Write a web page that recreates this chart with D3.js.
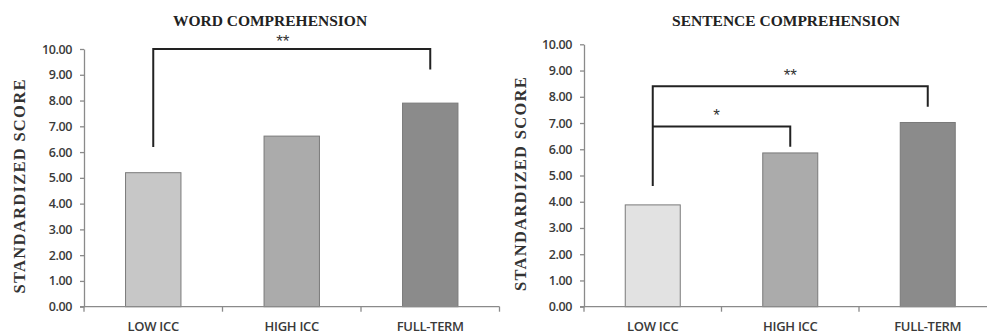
<!DOCTYPE html>
<html>
<head>
<meta charset="utf-8">
<script src="https://cdn.jsdelivr.net/npm/d3@7"></script>
<style>
  body { margin: 0; background: #fff; }
  svg { display: block; }
</style>
</head>
<body>
<div id="main_output"></div>
<script>
// data
var groups = ["LOW ICC", "HIGH ICC", "FULL-TERM"];
var yTicks = [0, 1, 2, 3, 4, 5, 6, 7, 8, 9, 10];
var wordScores = [5.2, 6.62, 7.9];
var sentenceScores = [3.88, 5.86, 7.02];
var wordColors = ["#c7c7c7", "#ababab", "#8b8b8b"];
var sentenceColors = ["#e2e2e2", "#ababab", "#8b8b8b"];
// brackets: from group, to group, level, drop on left side, drop on right side, label
var wordBrackets = [
  {from: 0, to: 2, level: 10, lowA: 6.2, lowB: 9.2, label: "**"}
];
var sentenceBrackets = [
  {from: 0, to: 2, level: 8.4, lowA: 4.6, lowB: 7.62, label: "**"},
  {from: 0, to: 1, level: 6.87, lowA: 6.87, lowB: 6.1, label: "*"}
];

var width = 987, height = 336;

var svg = d3.select("#main_output")
  .append("svg")
  .attr("width", width)
  .attr("height", height);

function drawPanel(opt) {
  var x = d3.scaleBand()
    .domain(groups)
    .range([opt.left, opt.left + 3 * opt.band])
    .paddingInner(0.6)
    .paddingOuter(0.3);

  var y = d3.scaleLinear()
    .domain([0, 10])
    .range([opt.bottom, opt.top]);

  var g = svg.append("g");

  // title
  g.append("text")
    .attr("x", opt.titleX)
    .attr("y", 26)
    .attr("text-anchor", "middle")
    .attr("font-family", "Liberation Serif, Times New Roman, serif")
    .attr("font-weight", "bold")
    .attr("font-size", "15.5px")
    .attr("fill", "#222")
    .text(opt.title);

  // y axis label
  g.append("text")
    .attr("transform", "translate(" + opt.labelX + "," + ((opt.top + opt.bottom) / 2 + 8) + ") rotate(-90)")
    .attr("text-anchor", "middle")
    .attr("dy", "0.35em")
    .attr("font-family", "Liberation Serif, Times New Roman, serif")
    .attr("font-weight", "bold")
    .attr("font-size", "16.5px")
    .attr("letter-spacing", "1.3px")
    .attr("fill", "#333")
    .text("STANDARDIZED SCORE");

  // y axis
  var yAxis = d3.axisLeft(y)
    .tickValues(yTicks)
    .tickFormat(d3.format(".2f"))
    .tickSize(4)
    .tickSizeOuter(0)
    .tickPadding(8);

  var ya = g.append("g")
    .attr("transform", "translate(" + opt.left + ",0)")
    .call(yAxis);
  ya.select(".domain").attr("stroke", "#8a8a8a").attr("stroke-width", 1.3);
  ya.selectAll(".tick line").attr("stroke", "#8a8a8a").attr("stroke-width", 1.3);
  ya.selectAll(".tick text")
    .attr("font-family", "Open Sans, Liberation Sans, sans-serif")
    .attr("font-size", "12.5px")
    .attr("font-weight", "600")
    .attr("letter-spacing", "-0.4px")
    .attr("fill", "#3a3a3a");

  // bars
  g.selectAll(".bar")
    .data(opt.values)
    .enter().append("rect")
    .attr("class", "bar")
    .attr("x", function(d, i) { return x(groups[i]); })
    .attr("width", x.bandwidth())
    .attr("y", function(d) { return y(d); })
    .attr("height", function(d) { return y(0) - y(d); })
    .attr("fill", function(d, i) { return opt.colors[i]; })
    .attr("stroke", "#7a7a7a")
    .attr("stroke-width", 1);

  // x axis
  var xr = [opt.left, opt.left + 3 * opt.band];
  g.append("line")
    .attr("x1", xr[0] - 4).attr("x2", xr[1])
    .attr("y1", y(0)).attr("y2", y(0))
    .attr("stroke", "#8a8a8a").attr("stroke-width", 1.3);

  g.selectAll(".xtick")
    .data(d3.range(4))
    .enter().append("line")
    .attr("class", "xtick")
    .attr("x1", function(d) { return opt.left + d * opt.band; })
    .attr("x2", function(d) { return opt.left + d * opt.band; })
    .attr("y1", y(0))
    .attr("y2", y(0) + 5)
    .attr("stroke", "#8a8a8a").attr("stroke-width", 1.3);

  g.selectAll(".xlab")
    .data(groups)
    .enter().append("text")
    .attr("class", "xlab")
    .attr("x", function(d) { return x(d) + x.bandwidth() / 2; })
    .attr("y", 331)
    .attr("text-anchor", "middle")
    .attr("font-family", "Open Sans, Liberation Sans, sans-serif")
    .attr("font-size", "13px")
    .attr("font-weight", "600")
    .attr("letter-spacing", "-0.3px")
    .attr("fill", "#3a3a3a")
    .text(function(d) { return d; });

  // significance brackets
  var cx = function(i) { return x(groups[i]) + x.bandwidth() / 2; };
  opt.brackets.forEach(function(b) {
    var pts = [
      [cx(b.from), y(b.lowA)],
      [cx(b.from), y(b.level)],
      [cx(b.to), y(b.level)],
      [cx(b.to), y(b.lowB)]
    ];
    g.append("path")
      .attr("d", d3.line()(pts))
      .attr("fill", "none")
      .attr("stroke", "#222")
      .attr("stroke-width", 2);
    g.append("text")
      .attr("x", opt.starX(b, cx))
      .attr("y", y(b.level) - opt.starGap)
      .attr("text-anchor", "middle")
      .attr("font-family", "Liberation Sans, sans-serif")
      .attr("font-size", "17px")
      .attr("fill", "#333")
      .text(b.label);
  });
}

drawPanel({
  title: "WORD COMPREHENSION",
  titleX: 270,
  labelX: 19,
  left: 84,
  band: 138.5,
  top: 49,
  bottom: 306.7,
  values: wordScores,
  colors: wordColors,
  brackets: wordBrackets,
  starGap: 2,
  starX: function(b, cx) { return (cx(b.from) + cx(b.to)) / 2 - 9; }
});

drawPanel({
  title: "SENTENCE COMPREHENSION",
  titleX: 786,
  labelX: 520,
  left: 584,
  band: 137.5,
  top: 44.3,
  bottom: 306.7,
  values: sentenceScores,
  colors: sentenceColors,
  brackets: sentenceBrackets,
  starGap: 5,
  starX: function(b, cx) { return b.label === "*" ? (cx(b.from) + cx(b.to)) / 2 - 5 : (cx(b.from) + cx(b.to)) / 2; }
});
</script>
</body>
</html>
